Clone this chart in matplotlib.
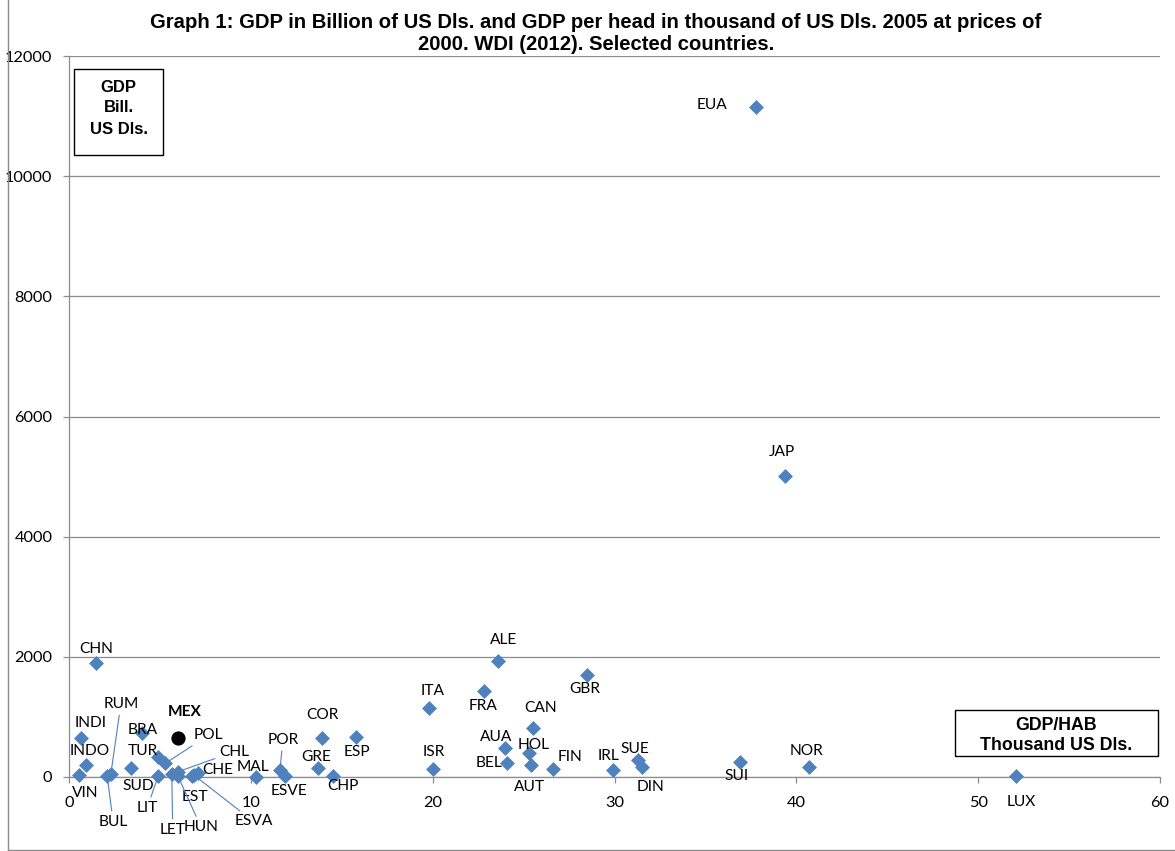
import matplotlib
matplotlib.use("Agg")
import matplotlib.pyplot as plt
from matplotlib.patches import Rectangle
from matplotlib.lines import Line2D

# GDP per head (thousand US Dls., 2000 prices) and GDP (billion US Dls.), 2005
countries = ["EUA", "JAP", "CHN", "ALE", "ITA", "FRA", "GBR", "CAN", "AUA", "HOL",
             "BEL", "AUT", "FIN", "ISR", "IRL", "SUE", "DIN", "SUI", "NOR", "LUX",
             "COR", "ESP", "GRE", "CHP", "POR", "ESVE", "MAL", "INDI", "INDO", "VIN",
             "BUL", "RUM", "BRA", "SUD", "TUR", "POL", "CHL", "CHE", "EST", "LIT",
             "LET", "HUN", "ESVA"]
gdp_per_head = [37.8, 39.4, 1.5, 23.6, 19.8, 22.8, 28.5, 25.5, 24.0, 25.3,
                24.1, 25.4, 26.6, 20.0, 29.9, 31.3, 31.5, 36.9, 40.7, 52.1,
                13.9, 15.8, 13.7, 14.5, 11.6, 11.9, 10.3, 0.65, 0.95, 0.55,
                2.1, 2.3, 4.0, 3.4, 4.9, 5.3, 6.0, 7.1, 6.75, 4.9,
                5.65, 6.0, 6.9]
gdp_bill = [11150, 5010, 1900, 1930, 1145, 1430, 1700, 810, 477, 405,
            238, 200, 128, 128, 117, 283, 161, 255, 172, 17,
            655, 671, 144, 11, 117, 22, 5, 645, 200, 40,
            16, 48, 735, 155, 338, 228, 88, 72, 10, 15,
            50, 10, 25]

mex_label = "MEX"
mex_per_head = 6.0
mex_gdp = 644

x_ticks = [0, 10, 20, 30, 40, 50, 60]
y_ticks = [0, 2000, 4000, 6000, 8000, 10000, 12000]

# label offsets in pixels (dx right, dy up); some labels get a leader line
label_offsets = {
    "EUA": (-44, 2), "JAP": (-3, 24), "CHN": (0, 14), "ALE": (5, 21),
    "ITA": (4, 17), "FRA": (-1, -15), "GBR": (-2, -14), "CAN": (8, 20),
    "AUA": (-9, 11), "HOL": (5, 8), "BEL": (-18, 0), "AUT": (-1, -22),
    "FIN": (17, 12), "ISR": (1, 17), "IRL": (-4, 14), "SUE": (-3, 11),
    "DIN": (9, -20), "SUI": (-3, -14), "NOR": (-3, 16), "LUX": (5, -26),
    "COR": (1, 23), "ESP": (1, -15), "GRE": (-2, 11), "CHP": (10, -10),
    "POR": (3, 30), "ESVE": (4, -15), "MAL": (-3, 10), "INDI": (10, 15),
    "INDO": (3, 14), "VIN": (6, -18), "BUL": (6, -46), "RUM": (10, 70),
    "BRA": (1, 3), "SUD": (7, -18), "TUR": (-15, 6), "POL": (43, 28),
    "CHL": (56, 20), "CHE": (20, 3), "EST": (3, -21), "LIT": (-11, -32),
    "LET": (1, -56), "HUN": (23, -51), "ESVA": (59, -46),
}
leaders = {"POR", "BUL", "RUM", "POL", "CHL", "LIT", "LET", "HUN", "ESVA"}

W, H = 1175, 851
DPI = 100
blue = "#4F81BD"
grid_gray = "#8C8C8C"

fig = plt.figure(figsize=(W / DPI, H / DPI), dpi=DPI)
fig.patch.set_facecolor("white")

left_px, right_px, top_px, bottom_px = 69, 1160, 56, 777
ax = fig.add_axes([left_px / W, 1 - bottom_px / H,
                   (right_px - left_px) / W, (bottom_px - top_px) / H])

ax.set_xlim(0, 60)
ax.set_ylim(0, 12000)
ax.set_xticks(x_ticks)
ax.set_yticks(y_ticks)
ax.set_xticklabels([str(v) for v in x_ticks])
ax.set_yticklabels([str(v) for v in y_ticks])

ax.grid(axis="y", color=grid_gray, linewidth=0.9, zorder=0)
ax.set_axisbelow(True)
for side in ("top", "right"):
    ax.spines[side].set_visible(False)
for side in ("left", "bottom"):
    ax.spines[side].set_color(grid_gray)
    ax.spines[side].set_linewidth(0.9)

ax.tick_params(axis="both", colors=grid_gray, length=4, width=0.9,
               labelcolor="black")
ax.tick_params(axis="y", pad=8)
ax.tick_params(axis="x", pad=10)
for lbl in ax.get_xticklabels() + ax.get_yticklabels():
    lbl.set_fontfamily("Lato")
    lbl.set_fontsize(11.8)

# country markers
ax.scatter(gdp_per_head, gdp_bill, marker="D", s=50, color=blue,
           edgecolors=blue, linewidths=0.5, zorder=3, clip_on=False)

px2pt = 72 / DPI
for name, xv, yv in zip(countries, gdp_per_head, gdp_bill):
    dx, dy = label_offsets[name]
    kw = {}
    if name in leaders:
        kw["arrowprops"] = dict(arrowstyle="-", color=blue, lw=0.8,
                                shrinkA=1, shrinkB=2)
    ax.annotate(name, (xv, yv), xytext=(dx * px2pt, dy * px2pt),
                textcoords="offset points", ha="center", va="center",
                fontfamily="Lato", fontsize=11.2, color="black",
                annotation_clip=False, zorder=4, **kw)

# Mexico highlighted
ax.scatter([mex_per_head], [mex_gdp], marker="o", s=85, color="black",
           edgecolors="black", zorder=5)
ax.annotate(mex_label, (mex_per_head, mex_gdp), xytext=(7 * px2pt, 26 * px2pt),
            textcoords="offset points", ha="center", va="center",
            fontfamily="Lato", fontsize=11.2, fontweight="bold", zorder=5)

# title
title_kw = dict(ha="center", va="center", fontfamily="Liberation Sans",
                fontweight="bold", fontsize=14.6)
fig.text(596 / W, 1 - 22 / H,
         "Graph 1: GDP in Billion of US Dls. and GDP per head in thousand of US Dls. 2005 at prices of",
         **title_kw)
fig.text(596 / W, 1 - 45 / H, "2000. WDI (2012). Selected countries.", **title_kw)

# axis caption boxes
def caption_box(x0, y0, x1, y1, lines, ys, size):
    fig.patches.append(Rectangle((x0 / W, 1 - y1 / H), (x1 - x0) / W,
                                 (y1 - y0) / H, transform=fig.transFigure,
                                 facecolor="white", edgecolor="black",
                                 linewidth=1.0, zorder=6))
    cx = (x0 + x1) / 2
    for txt, yy in zip(lines, ys):
        fig.text(cx / W, 1 - yy / H, txt, ha="center", va="center",
                 fontfamily="Liberation Sans", fontweight="bold",
                 fontsize=size, zorder=7)

caption_box(74, 69, 163, 155, ["GDP", "Bill.", "US Dls."], [87, 108, 130], 12)
caption_box(955, 710, 1158, 756, ["GDP/HAB", "Thousand US Dls."], [726, 746], 12.8)

# outer chart frame (left and bottom edges)
fig.add_artist(Line2D([7.5 / W, 7.5 / W], [1.5 / H, 1.0], transform=fig.transFigure,
                      color=grid_gray, linewidth=1.0))
fig.add_artist(Line2D([7.5 / W, 1.0], [1.5 / H, 1.5 / H], transform=fig.transFigure,
                      color=grid_gray, linewidth=1.0))

fig.savefig("out.png", dpi=DPI, facecolor="white")
